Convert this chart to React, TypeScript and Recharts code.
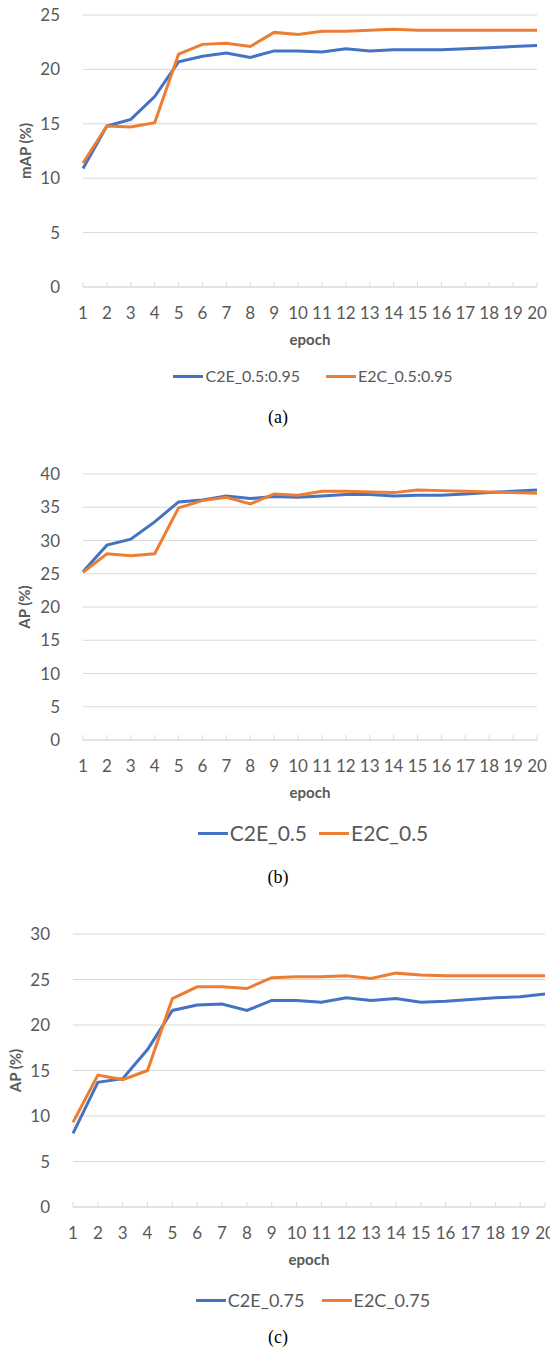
import React from 'react';
import { LineChart, Line, XAxis, YAxis, CartesianGrid, Legend } from 'recharts';

const epochs = ['1', '2', '3', '4', '5', '6', '7', '8', '9', '10', '11', '12', '13', '14', '15', '16', '17', '18', '19', '20'];

// (a) mAP 0.5:0.95
const mapC2E = [10.9, 14.8, 15.4, 17.5, 20.7, 21.2, 21.5, 21.1, 21.7, 21.7, 21.6, 21.9, 21.7, 21.8, 21.8, 21.8, 21.9, 22.0, 22.1, 22.2];
const mapE2C = [11.4, 14.8, 14.7, 15.1, 21.4, 22.3, 22.4, 22.1, 23.4, 23.2, 23.5, 23.5, 23.6, 23.7, 23.6, 23.6, 23.6, 23.6, 23.6, 23.6];

// (b) AP 0.5
const ap50C2E = [25.3, 29.3, 30.2, 32.8, 35.8, 36.1, 36.7, 36.3, 36.6, 36.5, 36.7, 36.9, 36.9, 36.7, 36.8, 36.8, 37.0, 37.2, 37.4, 37.6];
const ap50E2C = [25.2, 28.0, 27.7, 28.0, 34.9, 36.0, 36.5, 35.5, 37.0, 36.8, 37.4, 37.4, 37.3, 37.2, 37.6, 37.5, 37.4, 37.3, 37.2, 37.1];

// (c) AP 0.75
const ap75C2E = [8.1, 13.7, 14.1, 17.3, 21.6, 22.2, 22.3, 21.6, 22.7, 22.7, 22.5, 23.0, 22.7, 22.9, 22.5, 22.6, 22.8, 23.0, 23.1, 23.4];
const ap75E2C = [9.3, 14.5, 14.0, 15.0, 22.9, 24.2, 24.2, 24.0, 25.2, 25.3, 25.3, 25.4, 25.1, 25.7, 25.5, 25.4, 25.4, 25.4, 25.4, 25.4];

const ticksA = [0, 5, 10, 15, 20, 25];
const ticksB = [0, 5, 10, 15, 20, 25, 30, 35, 40];
const ticksC = [0, 5, 10, 15, 20, 25, 30];

const FONT = 'Lato, "Open Sans", sans-serif';
const GREY = '#595959';
const GRID = '#D9D9D9';
const BLUE = '#4472C4';
const ORANGE = '#ED7D31';

const buildRows = (c2e: number[], e2c: number[]) =>
  epochs.map((epoch, i) => ({ epoch, c2e: c2e[i], e2c: e2c[i] }));

function LegendContent({ payload, fontSize, gap }: any) {
  return (
    <div
      style={{
        display: 'flex',
        justifyContent: 'center',
        alignItems: 'center',
        fontFamily: FONT,
        fontSize,
        color: GREY,
        lineHeight: '24px',
      }}
    >
      {(payload || []).map((p: any, i: number) => (
        <div key={p.value} style={{ display: 'flex', alignItems: 'center', marginLeft: i ? gap : 0 }}>
          <span style={{ display: 'inline-block', width: 30, height: 3, background: p.color, marginRight: 2 }} />
          <span>{p.value}</span>
        </div>
      ))}
    </div>
  );
}

interface PanelProps {
  top: number;
  c2e: number[];
  e2c: number[];
  names: [string, string];
  yTicks: number[];
  yLabel: string;
  yLabelX: number;
  plotLeft: number;
  plotRight: number;
  axisY: number;
  legendY: number;
  legendFont: number;
  legendGap: number;
}

function Panel(p: PanelProps) {
  const H = 400;
  const data = buildRows(p.c2e, p.e2c);
  const tick = { fill: GREY, fontSize: 17, fontFamily: FONT };
  return (
    <div style={{ position: 'absolute', left: 0, top: p.top }}>
      <LineChart
        width={550}
        height={H}
        data={data}
        margin={{ top: 15, right: 550 - p.plotRight, left: 0, bottom: H - p.axisY - 60 }}
      >
        <CartesianGrid vertical={false} stroke={GRID} />
        <XAxis
          dataKey="epoch"
          interval={0}
          height={60}
          tickSize={-5}
          tickMargin={25}
          axisLine={{ stroke: GRID }}
          tickLine={{ stroke: GRID }}
          tick={tick}
          label={{
            value: 'epoch',
            position: 'insideTop',
            offset: 47,
            fill: GREY,
            fontSize: 15,
            fontWeight: 'bold',
            fontFamily: FONT,
          }}
        />
        <YAxis
          width={p.plotLeft}
          domain={[0, p.yTicks[p.yTicks.length - 1]]}
          ticks={p.yTicks}
          interval={0}
          axisLine={false}
          tickLine={false}
          tickMargin={17}
          tick={tick}
          label={{
            value: p.yLabel,
            angle: -90,
            position: 'insideLeft',
            offset: p.yLabelX,
            fill: GREY,
            fontSize: 15,
            fontWeight: 'bold',
            fontFamily: FONT,
            style: { textAnchor: 'middle' },
          }}
        />
        <Legend
          layout="horizontal"
          verticalAlign="middle"
          align="center"
          wrapperStyle={{ top: p.legendY - 12, left: 76, width: 474 }}
          content={(props: any) => <LegendContent {...props} fontSize={p.legendFont} gap={p.legendGap} />}
        />
        <Line
          type="linear"
          dataKey="c2e"
          name={p.names[0]}
          stroke={BLUE}
          strokeWidth={3}
          dot={false}
          activeDot={false}
          isAnimationActive={false}
        />
        <Line
          type="linear"
          dataKey="e2c"
          name={p.names[1]}
          stroke={ORANGE}
          strokeWidth={3}
          dot={false}
          activeDot={false}
          isAnimationActive={false}
        />
      </LineChart>
    </div>
  );
}

function Caption({ text, y }: { text: string; y: number }) {
  return (
    <div
      style={{
        position: 'absolute',
        left: 0,
        top: y - 11,
        width: 556,
        textAlign: 'center',
        fontFamily: '"Liberation Serif", "DejaVu Serif", serif',
        fontSize: 18,
        lineHeight: '22px',
        color: '#000',
      }}
    >
      {text}
    </div>
  );
}

export default function App() {
  return (
    <div style={{ position: 'absolute', left: 0, top: 0, width: 550, height: 1349, background: '#fff', overflow: 'hidden' }}>
      <Panel
        top={0}
        c2e={mapC2E}
        e2c={mapE2C}
        names={['C2E_0.5:0.95', 'E2C_0.5:0.95']}
        yTicks={ticksA}
        yLabel="mAP (%)"
        yLabelX={26}
        plotLeft={83}
        plotRight={537}
        axisY={287}
        legendY={376}
        legendFont={16}
        legendGap={26}
      />
      <Caption text="(a)" y={417} />
      <Panel
        top={459}
        c2e={ap50C2E}
        e2c={ap50E2C}
        names={['C2E_0.5', 'E2C_0.5']}
        yTicks={ticksB}
        yLabel="AP (%)"
        yLabelX={25}
        plotLeft={83}
        plotRight={537}
        axisY={281}
        legendY={374}
        legendFont={21}
        legendGap={12}
      />
      <Caption text="(b)" y={877} />
      <Panel
        top={919}
        c2e={ap75C2E}
        e2c={ap75E2C}
        names={['C2E_0.75', 'E2C_0.75']}
        yTicks={ticksC}
        yLabel="AP (%)"
        yLabelX={16}
        plotLeft={73}
        plotRight={545}
        axisY={288}
        legendY={381}
        legendFont={18}
        legendGap={17}
      />
      <Caption text="(c)" y={1337} />
    </div>
  );
}
